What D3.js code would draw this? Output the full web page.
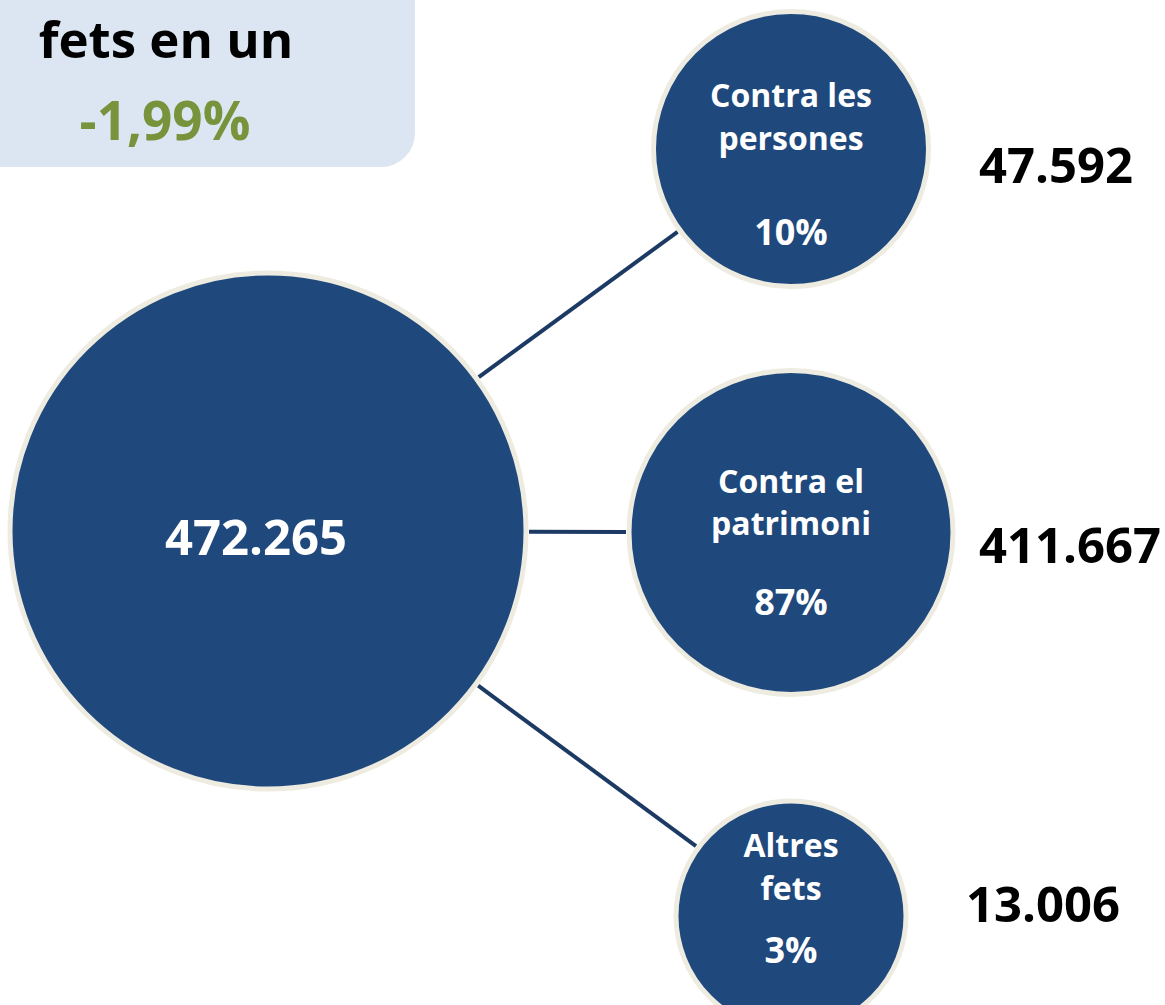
<!DOCTYPE html>
<html lang="ca">
<head>
<meta charset="UTF-8">
<title>Fets penals</title>
<script src="https://d3js.org/d3.v7.min.js"></script>
<style>
  body { margin: 0; background: #fff; }
  svg text { font-family: "Open Sans", "DejaVu Sans", sans-serif; font-weight: 700; }
</style>
</head>
<body>
<svg width="1165" height="1005"></svg>
<script>
// data
const totalValue = 472265;
const totalLabel = "472.265";
const headerLines = ["fets en un"];
const changeLabel = "-1,99%";
const categories = [["Contra les", "persones"], ["Contra el", "patrimoni"], ["Altres", "fets"]];
const values = [47592, 411667, 13006];
const valueLabels = ["47.592", "411.667", "13.006"];
const shareLabels = ["10%", "87%", "3%"];

const width = 1165, height = 1005;
const svg = d3.select("svg").attr("width", width).attr("height", height);

const navy = "#1F497D", rim = "#EEECE1", lineCol = "#1C3A63";

// header box, top-left
svg.append("rect")
  .attr("x", -40).attr("y", -40)
  .attr("width", 455).attr("height", 207)
  .attr("rx", 34)
  .attr("fill", "#DCE6F2");
svg.append("text")
  .attr("x", 166).attr("y", 58)
  .attr("text-anchor", "middle")
  .attr("font-size", 51)
  .attr("fill", "#000")
  .text(headerLines[0]);
svg.append("text")
  .attr("x", 165).attr("y", 140)
  .attr("text-anchor", "middle")
  .attr("font-size", 53)
  .attr("fill", "#77933C")
  .text(changeLabel);

// layout
const big = { x: 268, y: 531, r: 258 };
const childX = 791;
const y = d3.scalePoint().domain(d3.range(values.length)).range([149, 916]);
const r = d3.scalePow().exponent(-0.25).domain([d3.min(values), d3.max(values)]).range([115, 162]);

// per-node text offsets (presentation only)
const textDy = [
  { l1: -42, l2: 1, pct: 96, val: 34 },
  { l1: -40, l2: 2, pct: 82, val: 30 },
  { l1: -59, l2: -16, pct: 47, val: 6 }
];

const nodes = values.map((v, i) => ({
  i, v, cx: childX, cy: y(i), r: r(v)
}));

// connectors, edge to edge
const ang = d => Math.atan2(d.cy - big.y, d.cx - big.x);
svg.append("g").selectAll("line")
  .data(nodes).enter().append("line")
  .attr("x1", d => big.x + (big.r + 3) * Math.cos(ang(d)))
  .attr("y1", d => big.y + (big.r + 3) * Math.sin(ang(d)))
  .attr("x2", d => d.cx - (d.r + 3) * Math.cos(ang(d)))
  .attr("y2", d => d.cy - (d.r + 3) * Math.sin(ang(d)))
  .attr("stroke", lineCol)
  .attr("stroke-width", 4);

// total circle
svg.append("circle")
  .attr("cx", big.x).attr("cy", big.y).attr("r", big.r)
  .attr("fill", navy).attr("stroke", rim).attr("stroke-width", 5);
svg.append("text")
  .attr("x", big.x - 12).attr("y", big.y + 24)
  .attr("text-anchor", "middle")
  .attr("font-size", 49)
  .attr("fill", "#fff")
  .text(totalLabel);

// child circles
const g = svg.append("g").selectAll("g")
  .data(nodes).enter().append("g");

g.append("circle")
  .attr("cx", d => d.cx).attr("cy", d => d.cy).attr("r", d => d.r)
  .attr("fill", navy).attr("stroke", rim).attr("stroke-width", 5);

g.append("text")
  .attr("x", d => d.cx).attr("y", d => d.cy + textDy[d.i].l1)
  .attr("text-anchor", "middle").attr("font-size", 32).attr("fill", "#fff")
  .text(d => categories[d.i][0]);
g.append("text")
  .attr("x", d => d.cx).attr("y", d => d.cy + textDy[d.i].l2)
  .attr("text-anchor", "middle").attr("font-size", 32).attr("fill", "#fff")
  .text(d => categories[d.i][1]);
g.append("text")
  .attr("x", d => d.cx).attr("y", d => d.cy + textDy[d.i].pct)
  .attr("text-anchor", "middle").attr("font-size", 36).attr("fill", "#fff")
  .text(d => shareLabels[d.i]);

g.append("text")
  .attr("x", d => d.i === 2 ? 966 : 979)
  .attr("y", d => d.cy + textDy[d.i].val)
  .attr("font-size", 49).attr("fill", "#000")
  .text(d => valueLabels[d.i]);
</script>
</body>
</html>
